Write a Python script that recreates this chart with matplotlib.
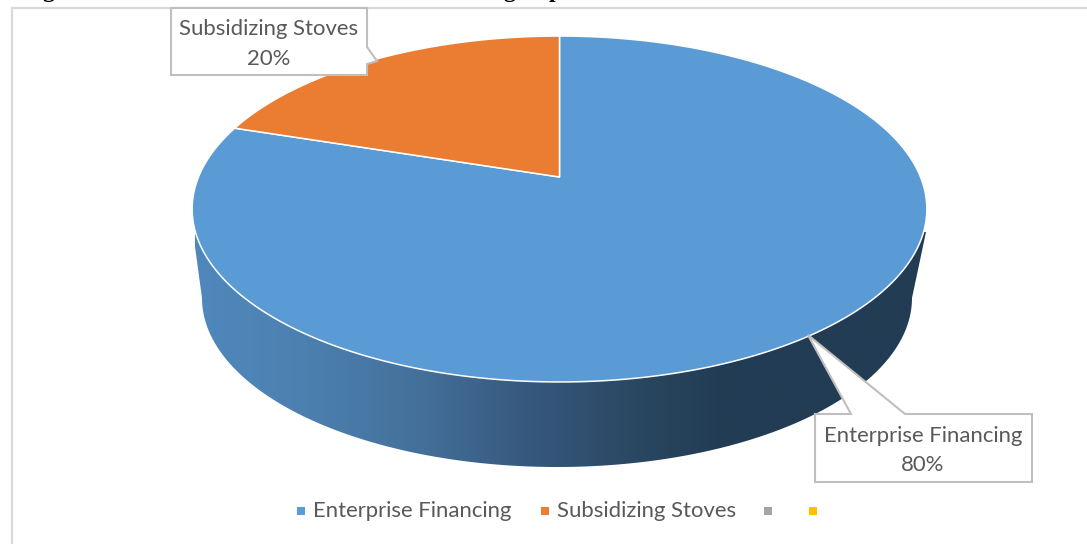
import numpy as np
import matplotlib
matplotlib.use("Agg")
import matplotlib.pyplot as plt
from matplotlib.colors import LinearSegmentedColormap
from matplotlib.patches import Polygon

# Chart data
categories = ["Enterprise Financing", "Subsidizing Stoves"]
shares = [80, 20]
slice_colors = ["#5B9BD5", "#EA7D31"]
legend_labels = ["Enterprise Financing", "Subsidizing Stoves", "", ""]
legend_colors = ["#5B9BD5", "#ED7D31", "#A5A5A5", "#FFC000"]
heading_glyphs = ["g", "g", "p"]

FONT = "Lato"
TEXT = "#595959"
BOX = "#BFBFBF"
LABEL_SIZE = 15.9

fig = plt.figure(figsize=(10.87, 5.44), dpi=100, facecolor="white")
ax = fig.add_axes([0, 0, 1, 1])
ax.set_xlim(0, 1087)
ax.set_ylim(544, 0)
ax.axis("off")

# Tilted-disc projection: unit circle to canvas coordinates
CX, K, PERSP, A, B = 559.5, 361.0, 0.185, -134.3, 177.0


def project(theta):
    """theta is measured clockwise from 12 o'clock, in radians."""
    u, v = np.sin(theta), np.cos(theta)
    d = PERSP * v + 1
    return CX + K * u / d, (A * v + B) / d


# Heading line, cut off by the top edge of the canvas
for glyph, x in zip(heading_glyphs, [48, 509, 555]):
    ax.text(x, -2.5, glyph, family="Liberation Serif", weight="bold", fontsize=17,
            ha="center", va="baseline", color="black", clip_on=False)

# Chart frame (top and left rules only)
ax.plot([12, 12, 1087], [544, 8, 8], color="#D9D9D9", lw=1.6, solid_joinstyle="miter", zorder=1)

# Side wall of the disc, shaded from left to right
tt = np.linspace(np.pi, 0, 200)
wall_x = 557 + 355 * np.cos(tt)
wall_y = 298 + 169 * np.sin(tt)
wall = np.column_stack([np.r_[193, wall_x, 926], np.r_[232, wall_y, 232]])
wall_patch = Polygon(wall, closed=True, fc="none", ec="none", zorder=2)
ax.add_patch(wall_patch)
ramp = LinearSegmentedColormap.from_list("wall", [
    (0.00, "#5088BC"), (0.15, "#4C80B0"), (0.30, "#44719B"), (0.45, "#37597F"),
    (0.62, "#29465F"), (0.72, "#223C54"), (1.00, "#223C54")])
img = ax.imshow(np.linspace(0, 1, 512)[None, :], extent=[195, 927, 470, 200], cmap=ramp,
                aspect="auto", zorder=2, interpolation="bilinear")
img.set_clip_path(wall_patch)
ax.set_xlim(0, 1087)
ax.set_ylim(544, 0)

# Top face: one wedge per share, starting at 12 o'clock and running clockwise
boundaries = np.r_[0, np.cumsum(shares)] / np.sum(shares) * 2 * np.pi
for start, end, color in zip(boundaries[:-1], boundaries[1:], slice_colors):
    th = np.linspace(start, end, 300)
    px, py = project(th)
    pts = np.column_stack([np.r_[CX, px], np.r_[B, py]])
    ax.add_patch(Polygon(pts, closed=True, fc=color, ec="white", lw=1.1,
                         joinstyle="round", zorder=3))


def callout(vertices, label, share, cx, y1, y2):
    ax.add_patch(Polygon(vertices, closed=True, fc="white", ec=BOX, lw=1.5,
                         joinstyle="miter", zorder=4))
    ax.text(cx, y1, label, family=FONT, fontsize=LABEL_SIZE, color=TEXT,
            ha="center", va="center", zorder=5)
    ax.text(cx, y2, f"{share}%", family=FONT, fontsize=LABEL_SIZE, color=TEXT,
            ha="center", va="center", zorder=5)


# Data callouts with pointers
callout([(171, 8), (367, 8), (367, 47), (377, 61), (367, 64), (367, 75), (171, 75)],
        categories[1], shares[1], 269, 29, 59)
callout([(815, 414), (851, 414), (808, 335), (905, 414), (1032, 414), (1032, 482), (815, 482)],
        categories[0], shares[0], 923, 435.5, 465)

# Legend row
marker_x = [300.5, 544.5, 768, 813]
text_x = [313, 557]
for mx, color in zip(marker_x, legend_colors):
    ax.plot([mx], [511], marker="s", ms=5.4, mfc=color, mec=color, mew=0, ls="none", zorder=5)
for tx, label in zip(text_x, legend_labels):
    ax.text(tx, 511, label, family=FONT, fontsize=LABEL_SIZE, color=TEXT, ha="left", va="center", zorder=5)

fig.savefig("out.png", dpi=100, facecolor="white")
